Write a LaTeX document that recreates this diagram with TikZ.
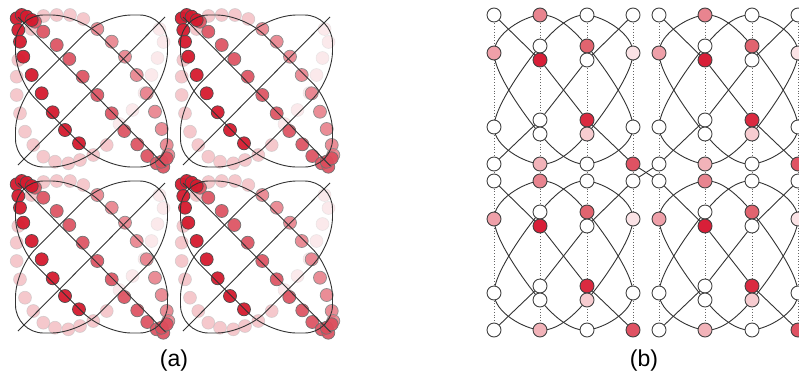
\documentclass[tikz,border=0pt]{standalone}
\usepackage{fontspec}
\setmainfont{Liberation Sans}
\usetikzlibrary{backgrounds}

\definecolor{rdark}{HTML}{D51A2E}
\definecolor{rmid}{HTML}{DC4D5C}
\definecolor{rpink}{HTML}{E5707C}
\definecolor{rlight}{HTML}{F1B5BB}
\definecolor{rpale}{HTML}{F9DFE2}
\definecolor{bnA}{HTML}{EFA0A9}
\definecolor{bnB}{HTML}{E8848F}
\definecolor{bnC}{HTML}{D81F38}
\definecolor{bnD}{HTML}{F2B3B9}
\definecolor{bnE}{HTML}{E1646F}
\definecolor{bnF}{HTML}{DA2A40}
\definecolor{bnG}{HTML}{F7CCD0}
\definecolor{bnH}{HTML}{FBE3E6}
\definecolor{bnI}{HTML}{DF5263}

\begin{document}
\begin{tikzpicture}[x=1pt,y=-1pt,
    curve/.style={draw=black!80, line width=0.9pt},
    guide/.style={draw=black!60, line width=0.8pt, dotted},
    bnode/.style={circle, draw=black!75, line width=0.9pt, minimum size=14pt, inner sep=0pt},
    dotpale/.style={fill=rpale, draw=black!15, fill opacity=0.7, draw opacity=0.5, line width=0.6pt},
    dotlight/.style={fill=rlight, draw=black!25, fill opacity=0.75, draw opacity=0.6, line width=0.6pt},
    dotpink/.style={fill=rpink, draw=black!45, fill opacity=0.8, line width=0.7pt},
    dotmid/.style={fill=rmid, draw=black!55, fill opacity=0.9, line width=0.7pt},
    dotdark/.style={fill=rdark, draw=black!70, fill opacity=0.95, line width=0.7pt},
    panel/.style={font=\fontsize{23}{26}\selectfont}]
  \useasboundingbox (0,0) rectangle (799,375);

  % (a) four periodic tiles
  \foreach \ti in {0,1} \foreach \tj in {0,1} {
    \begin{scope}[shift={(91.5+165*\ti, 91+166*\tj)}]
      \foreach \p in {(68,-62),(72,-49),(66,-33),(60,-16),(53,2),(41,19),(28,33)}
        \draw[dotpale] \p circle (6.5);
      \foreach \p in {(-60,-62),(-48,-75),(-73.2,-31),(-74.8,-14.3),(-74.8,4),(-71.5,22.3),(-66.5,40.7),
                      (-58.2,54),(-48.2,65.7),(-36.5,70.7),(-23.2,72.3),(-11.5,69),(1.8,64),(15.2,54),
                      (-34.8,-76),(-21.5,-76),(-8.2,-72)}
        \draw[dotlight] \p circle (6.5);
      \foreach \p in {(5.8,-62),(20.2,-49.3),(33.5,-34.3),(45.2,-16),(55.2,2.3),(63.5,20.7),
                      (70.2,38),(75.2,54),(76.8,64)}
        \draw[dotpink] \p circle (6.5);
      \foreach \p in {(-56.5,-69.3),(-48.2,-59.3),(-34.8,-46),(-22.2,-32),(-8.8,-14.3),(5.8,4),
                      (20.2,22.3),(32.8,40),(45.8,53.3),(55.8,65),(65.2,72.3),(71.8,75.7),(70.2,70.7),(75.2,67.3)}
        \draw[dotmid] \p circle (6.5);
      \foreach \p in {(-74.8,-72.7),(-69.8,-76),(-64.8,-74.3),(-59.8,-71),(-73.2,-61),(-71.5,-49.3),
                      (-68.2,-34.3),(-59.8,-16),(-49.8,2.3),(-38.8,21.3),(-26.5,39),(-12.5,52.3)}
        \draw[dotdark] \p circle (6.5);
      % orbits
      \draw[curve, rounded corners=28] (-76,-76) -- (-12,-76) -- (76,12) -- (76,76) -- (12,76) -- (-76,-12) -- cycle;
      \draw[curve, rounded corners=28] (-76,76) -- (-76,12) -- (12,-76) -- (76,-76) -- (76,-12) -- (-12,76) -- cycle;
      \draw[curve] (-73.5,-74) -- (74,75);
      \draw[curve] (-73.5,74) -- (73.5,-74);
    \end{scope}
  }
  \node[panel] (lbla) at (174,361) {(a)};

  % (b) graph tiles
  \foreach \ti in {0,1} \foreach \tj in {0,1} {
    \begin{scope}[shift={(494+165*\ti, 15+166*\tj)}]
      \foreach \nm/\px/\py/\col in {1o/0/0/white, 1b/0/38/bnA, 1e/0/112/white, 1g/0/149/white,
          2o/46/0/bnB, 2a/46/31/white, 2c/46/45/bnC, 2d/46/105/white, 2f/46/119/white, 2g/46/149/bnD,
          3o/93/0/white, 3a/93/31/bnE, 3c/93/45/white, 3d/93/105/bnF, 3f/93/119/bnG, 3g/93/149/white,
          4o/139/0/white, 4b/139/38/bnH, 4e/139/112/white, 4g/139/149/bnI}
        \node[bnode, fill=\col] (b\ti\tj-\nm) at (\px,\py) {};
    \end{scope}
  }
  \begin{scope}[on background layer]
    \foreach \ti in {0,1} {
      \foreach \c in {1,2,3,4}
        \draw[guide] (b\ti0-\c o.center) -- (b\ti1-\c g.center);
      \foreach \tj in {0,1} {
        \def\t{b\ti\tj}
        \draw[curve] plot[smooth cycle, tension=0.6] coordinates {(\t-1b.center) (\t-2o.center)
          (\t-3a.center) (\t-4e.center) (\t-3g.center) (\t-2f.center)};
        \draw[curve] plot[smooth cycle, tension=0.6] coordinates {(\t-4b.center) (\t-3o.center)
          (\t-2a.center) (\t-1e.center) (\t-2g.center) (\t-3f.center)};
        \draw[curve] (\t-1o) -- (\t-2c) -- (\t-3d) -- (\t-4g);
        \draw[curve] (\t-1g) -- (\t-2d) -- (\t-3c) -- (\t-4o);
      }
    }
    \draw[curve] (b00-4g) -- (b11-1o);
    \draw[curve] (b01-4o) -- (b10-1g);
  \end{scope}
  \node[panel] (lblb) at (644,361) {(b)};
\end{tikzpicture}
\end{document}
